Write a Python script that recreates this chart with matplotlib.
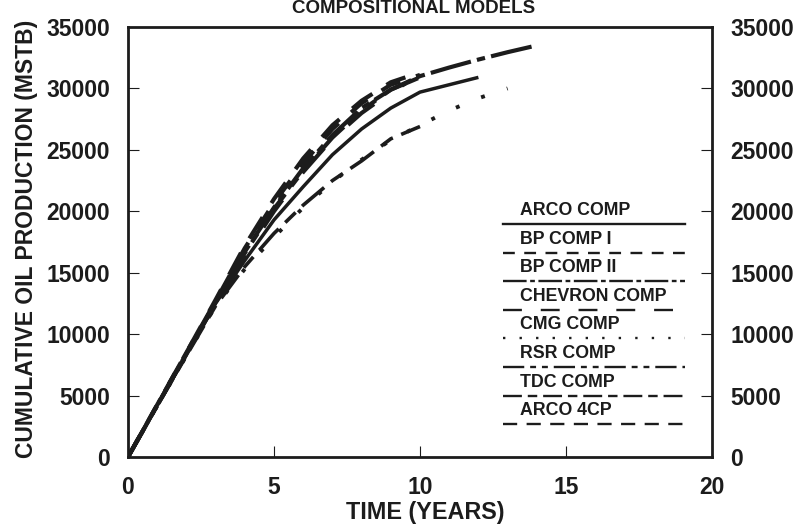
import matplotlib
matplotlib.use('Agg')
import matplotlib.pyplot as plt

plt.rcParams['font.family'] = ['Liberation Sans', 'DejaVu Sans']
plt.rcParams['font.weight'] = 'bold'

# data ---------------------------------------------------------------------------
names = ['ARCO COMP', 'BP COMP I', 'BP COMP II', 'CHEVRON COMP',
         'CMG COMP', 'RSR COMP', 'TDC COMP', 'ARCO 4CP']

arco_comp_t = [0, 1, 2, 3, 4, 5, 6, 7, 8, 9, 10, 11, 12]
arco_comp = [0, 4200, 8300, 12500, 16000, 19300, 22000, 24600, 26700, 28400, 29700, 30300, 30900]

bp1_t = [0, 1, 2, 3, 4, 5, 6, 7, 8, 9, 10]
bp1 = [0, 4250, 8500, 12700, 17000, 20700, 23900, 26700, 28800, 30300, 31100]

bp2_t = [0, 1, 2, 3, 4, 5, 6, 7, 8, 9, 10, 11, 12, 13, 14]
bp2 = [0, 4200, 8400, 12600, 16700, 20300, 23500, 26200, 28400, 29900, 31000, 31700, 32350, 32950, 33500]

chevron_t = [0, 1, 2, 3, 4, 5, 6, 7, 8, 9, 9.5]
chevron = [0, 4200, 8400, 12500, 16400, 20000, 23200, 25900, 28000, 29700, 30400]

cmg_t = [0, 1, 2, 3, 4, 5, 6, 7, 8, 9, 10, 11, 12, 13]
cmg = [0, 4150, 8250, 12300, 15300, 17900, 20300, 22400, 24200, 25800, 27000, 28200, 29200, 30000]

rsr_t = [0, 1, 2, 3, 4, 5, 6, 7, 8, 9, 10]
rsr = [0, 4200, 8400, 12600, 16600, 20200, 23300, 26000, 28200, 29900, 30900]

tdc_t = [0, 1, 2, 3, 4, 5, 6, 7, 8, 9, 10]
tdc = [0, 4150, 8250, 12300, 15500, 18200, 20500, 22500, 24100, 25900, 26900]

arco4cp_t = [0, 1, 2, 3, 4, 5, 6, 7, 8, 9, 9.5]
arco4cp = [0, 4250, 8500, 12800, 17200, 21000, 24300, 27000, 29000, 30500, 30900]

series_t = [arco_comp_t, bp1_t, bp2_t, chevron_t, cmg_t, rsr_t, tdc_t, arco4cp_t]
series_y = [arco_comp, bp1, bp2, chevron, cmg, rsr, tdc, arco4cp]

x_ticks = [0, 5, 10, 15, 20]
y_ticks = [0, 5000, 10000, 15000, 20000, 25000, 30000, 35000]

# styles ------------------------------------------------------------------------
ink = '#1c1c1c'
styles = ['-', (0, (5, 4)), (0, (10, 1.5, 2, 1.5)), (0, (8, 8)),
          (0, (1, 6)), (0, (9, 2.5, 2.5, 2.5, 2.5, 2.5)), (0, (8, 2.5, 4, 2.5)), (0, (6, 4))]
curve_lw = [2.5, 3.0, 3.0, 3.0, 2.8, 3.0, 2.6, 3.0]

fig = plt.figure(figsize=(7.96, 5.25), dpi=100)
ax = fig.add_axes([128/796, 1-457/525, 584/796, 430/525])

for t, y, ls, lw in zip(series_t, series_y, styles, curve_lw):
    ax.plot(t, y, color=ink, linestyle=ls, linewidth=lw, solid_capstyle='butt')

ax.set_xlim(0, 20)
ax.set_ylim(0, 35000)
ax.set_xticks(x_ticks)
ax.set_yticks(y_ticks)
ax.tick_params(axis='both', direction='in', length=8, width=0.8, color=ink,
               labelsize=16.5, labelcolor=ink)
ax.tick_params(axis='x', pad=14)
ax.tick_params(axis='y', pad=13, right=True, labelright=True)
for lab in ax.get_xticklabels() + ax.get_yticklabels():
    lab.set_fontweight('bold')
for s in ax.spines.values():
    s.set_linewidth(2.0)
    s.set_color(ink)

# legend drawn as label above a line sample
for i, (name, ls) in enumerate(zip(names, styles)):
    ly = 0.542 - i * 0.0665
    ax.plot([0.642, 0.954], [ly, ly], transform=ax.transAxes, color=ink,
            linestyle=ls, linewidth=1.7, clip_on=False)
    ax.text(0.672, ly + 0.031, name, transform=ax.transAxes, fontsize=12.8,
            fontweight='bold', color=ink, ha='left', va='center')

fig.text(27/796, 1-458/525, 'CUMULATIVE OIL PRODUCTION (MSTB)', rotation=90,
         ha='center', va='bottom', fontsize=16.5, fontweight='bold', color=ink)
fig.text(425/796, 1-512/525, 'TIME (YEARS)', ha='center', va='center',
         fontsize=16.8, fontweight='bold', color=ink)
fig.text(414/796, 1-13/525, 'COMPOSITIONAL MODELS', ha='center', va='baseline',
         fontsize=13.5, fontweight='bold', color=ink)

fig.savefig('out.png', dpi=100)
